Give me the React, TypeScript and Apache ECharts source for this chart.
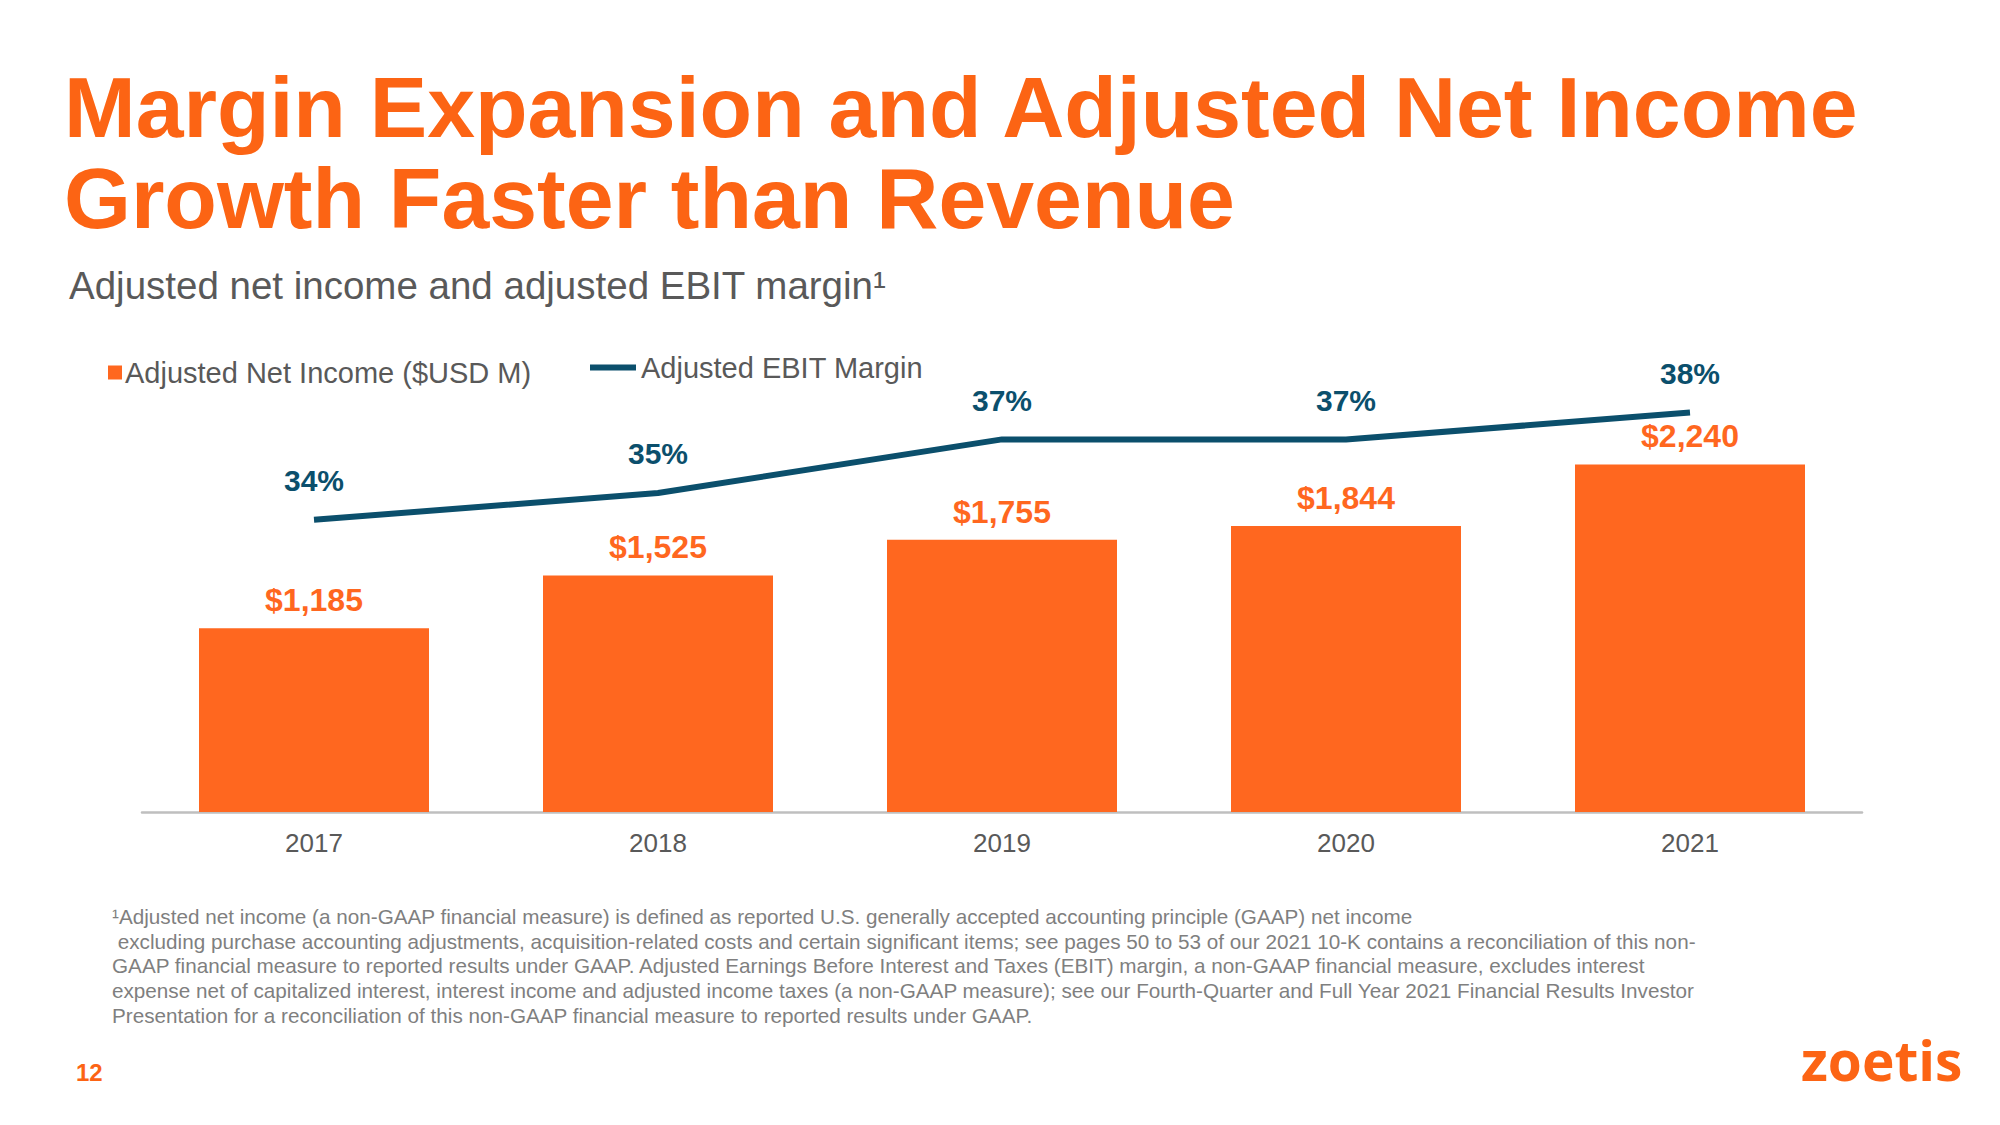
import React, { useEffect, useRef } from "react";
import * as echarts from "echarts";

const categories = ["2017", "2018", "2019", "2020", "2021"];
const netIncome = [1185, 1525, 1755, 1844, 2240];
const ebitMargin = [34, 35, 37, 37, 38];

const titleLines = ["Margin Expansion and Adjusted Net Income", "Growth Faster than Revenue"];
const subtitle = "Adjusted net income and adjusted EBIT margin";
const legendBar = "Adjusted Net Income ($USD M)";
const legendLine = "Adjusted EBIT Margin";
const footnoteLines = [
  "¹Adjusted net income (a non-GAAP financial measure) is defined as reported U.S. generally accepted accounting principle (GAAP) net income",
  " excluding purchase accounting adjustments, acquisition-related costs and certain significant items; see pages 50 to 53 of our 2021 10-K contains a reconciliation of this non-",
  "GAAP financial measure to reported results under GAAP. Adjusted Earnings Before Interest and Taxes (EBIT) margin, a non-GAAP financial measure, excludes interest",
  "expense net of capitalized interest, interest income and adjusted income taxes (a non-GAAP measure); see our Fourth-Quarter and Full Year 2021 Financial Results Investor",
  "Presentation for a reconciliation of this non-GAAP financial measure to reported results under GAAP.",
];

const ORANGE = "#FF671F";
const TITLE_ORANGE = "#FC6414";
const TEAL = "#0B4F6C";
const GRAY = "#595959";
const FONT = "'Liberation Sans', Arial, Helvetica, sans-serif";

export default function App() {
  const ref = useRef<HTMLDivElement>(null);
  useEffect(() => {
    if (!ref.current) return;
    const chart = echarts.init(ref.current, undefined, { renderer: "svg" });
    chart.setOption({
      animation: false,
      backgroundColor: "#ffffff",
      textStyle: { fontFamily: FONT },
      legend: [
        {
          data: [legendBar],
          left: 103,
          top: 353,
          icon: "rect",
          itemWidth: 14,
          itemHeight: 14,
          itemGap: 7,
          textStyle: { color: GRAY, fontSize: 29, fontFamily: FONT, padding: [0, 0, 0, -2] },
        },
        {
          data: [legendLine],
          left: 585,
          top: 348,
          icon: "rect",
          itemWidth: 46,
          itemHeight: 6,
          textStyle: { color: GRAY, fontSize: 29, fontFamily: FONT },
        },
      ],
      grid: { left: 142, right: 138, top: 300, bottom: 313 },
      xAxis: {
        type: "category",
        data: categories,
        axisLine: { lineStyle: { color: "#BFBFBF", width: 2.5 } },
        axisTick: { show: false },
        axisLabel: { color: GRAY, fontSize: 26, margin: 18, fontFamily: FONT },
      },
      yAxis: [
        { type: "value", min: 0, max: 3300, show: false, splitLine: { show: false } },
        { type: "value", min: 23.1, max: 42.2, show: false, splitLine: { show: false } },
      ],
      series: [
        {
          name: legendBar,
          type: "bar",
          data: netIncome,
          barWidth: 230,
          itemStyle: { color: ORANGE },
          label: {
            show: true,
            position: "top",
            distance: 12,
            color: ORANGE,
            fontSize: 32,
            fontWeight: "bold",
            fontFamily: FONT,
            formatter: (p: any) => "$" + Number(p.value).toLocaleString("en-US"),
          },
        },
        {
          name: legendLine,
          type: "line",
          yAxisIndex: 1,
          data: ebitMargin,
          symbol: "circle",
          symbolSize: 0.1,
          showSymbol: true,
          itemStyle: { color: TEAL },
          lineStyle: { color: TEAL, width: 6 },
          label: {
            show: true,
            position: "top",
            distance: 24,
            color: TEAL,
            fontSize: 30,
            fontWeight: "bold",
            fontFamily: FONT,
            formatter: (p: any) => p.value + "%",
          },
        },
      ],
      graphic: [
        {
          type: "text",
          left: 64,
          top: 61,
          style: {
            text: titleLines.join("\n"),
            fill: TITLE_ORANGE,
            fontSize: 86,
            fontWeight: "bold",
            fontFamily: FONT,
            lineHeight: 91,
          },
        },
        {
          type: "text",
          left: 69,
          top: 266,
          style: {
            text: subtitle + "¹",
            fill: GRAY,
            fontSize: 38.5,
            fontFamily: FONT,
          },
        },
        {
          type: "text",
          left: 112,
          top: 904,
          style: {
            text: footnoteLines.join("\n"),
            fill: "#7F7F7F",
            fontSize: 20.7,
            lineHeight: 24.7,
            fontFamily: FONT,
          },
        },
        {
          type: "text",
          left: 76,
          top: 1060,
          style: { text: "12", fill: TITLE_ORANGE, fontSize: 24, fontWeight: "bold", fontFamily: FONT },
        },
        {
          type: "text",
          left: 1801,
          top: 1032,
          style: { text: "zoetis", fill: TITLE_ORANGE, fontSize: 55, fontWeight: "bold", fontFamily: "'Open Sans', sans-serif" },
        },
      ],
    });
    return () => chart.dispose();
  }, []);
  return (
    <div
      ref={ref}
      style={{ position: "fixed", left: 0, top: 0, width: 2000, height: 1125, background: "#fff" }}
    />
  );
}
